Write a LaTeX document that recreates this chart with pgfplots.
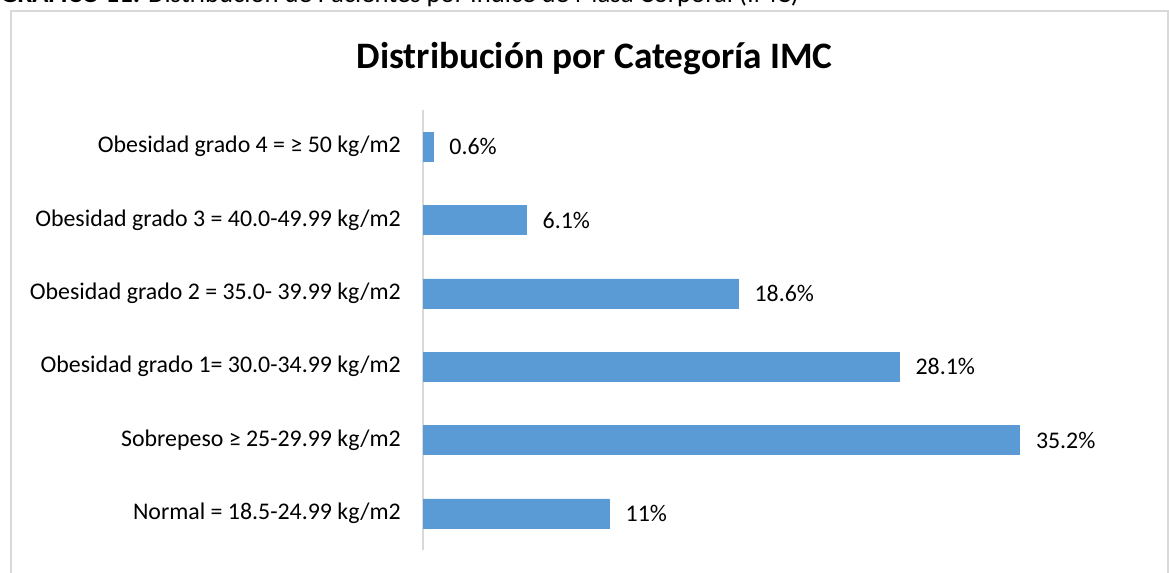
\documentclass[border=0pt]{standalone}
\usepackage{pgfplots}
\pgfplotsset{compat=1.18}
\usepackage{fontspec}
\setmainfont{Carlito}
\definecolor{barblue}{HTML}{5B9BD5}
\definecolor{framegray}{HTML}{D9D9D9}
\begin{document}
\begin{tikzpicture}
\useasboundingbox (0,0) rectangle (876.75pt,429.75pt);
\clip (0,0) rectangle (876.75pt,429.75pt);
\draw[color=framegray, line width=1.2pt] (8.25pt,421.5pt) rectangle (876pt,-20pt);
\node[anchor=base west, font=\fontsize{20}{24}\selectfont, inner sep=0pt] at (0pt,428pt) {\textbf{GRÁFICO 11:} Distribución de Pacientes por Índice de Masa Corporal (IMC)};
\node[anchor=base, font=\fontsize{28}{32}\selectfont\bfseries, inner sep=0pt] at (446pt,378pt) {Distribución por Categoría IMC};
\begin{axis}[
  at={(317.25pt,17.25pt)}, anchor=south west,
  scale only axis, width=534pt, height=330pt,
  xbar, bar width=21.75pt,
  xmin=0, xmax=42, ymin=-0.5, ymax=5.5,
  hide x axis,
  axis y line*=left,
  y axis line style={color=framegray, line width=1.2pt},
  ytick={0,1,2,3,4,5},
  yticklabels={Normal = 18.5-24.99 kg/m2, Sobrepeso ≥ 25-29.99 kg/m2, Obesidad grado 1= 30.0-34.99 kg/m2, Obesidad grado 2 = 35.0- 39.99 kg/m2, Obesidad grado 3 = 40.0-49.99 kg/m2, Obesidad grado 4 = ≥ 50 kg/m2},
  major tick length=0pt,
  yticklabel style={font=\fontsize{17.9}{21}\selectfont, inner sep=0pt, anchor=east, xshift=-16.5pt},
  /pgf/number format/assume math mode=true,
  nodes near coords={\pgfmathprintnumber{\pgfplotspointmeta}\%},
  every node near coord/.append style={font=\fontsize{17.9}{21}\selectfont, inner sep=0pt, anchor=west, xshift=12pt, color=black},
  clip=false,
]
\addplot[fill=barblue, draw=barblue] coordinates {(11,0) (35.2,1) (28.1,2) (18.6,3) (6.1,4) (0.6,5)};
\end{axis}
\end{tikzpicture}
\end{document}
